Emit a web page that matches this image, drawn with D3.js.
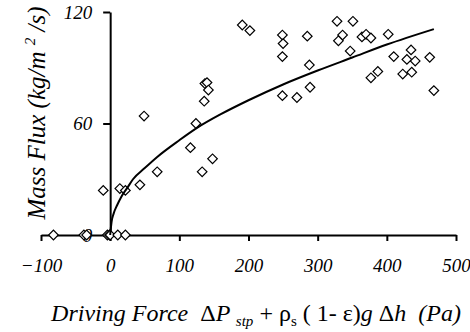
<!DOCTYPE html>
<html>
<head>
<meta charset="utf-8">
<script src="https://cdn.jsdelivr.net/npm/d3@7"></script>
<style>
  body { margin: 0; background: #fff; }
  svg { display: block; }
</style>
</head>
<body>
<div id="chart"></div>
<script>
// measured points (driving force Pa, mass flux kg/m2/s)
const forceX = [-82, -38, -34, -4, -1, 0, 11, 22,
  -10, 14, 22, 43, 68, 133, 49, 116, 124, 136, 137, 140, 142, 148, 191, 202,
  249, 250, 249, 249, 270, 289, 288, 285, 328, 351, 336, 330, 347, 364, 370, 377,
  402, 410, 435, 429, 441, 462, 387, 377, 423, 436, 468];
const fluxY = [0, 0, 0, 0, 0, 0, 0, 0,
  24, 25, 24, 27, 34, 34, 64, 47, 60, 72, 81.5, 82, 78, 41, 113, 110,
  107.6, 103, 96, 75, 74, 79.5, 91.5, 107, 115, 115, 107.6, 104.5, 99, 106.6, 108, 106,
  108, 96, 99.6, 94.5, 93.6, 95.6, 88, 84.6, 86.6, 87.6, 77.7];

// fitted curve
const fitX = [0, 2, 5, 10, 16, 25, 33, 50, 68, 100, 125, 160, 200, 250, 300, 350, 400, 468];
const fitY = [0, 7, 11.5, 16, 20.5, 25.5, 30, 36, 42, 51, 57.5, 65, 72.5, 81, 88.5, 95.5, 102.5, 110.8];

const xTicks = [-100, 0, 100, 200, 300, 400, 500];
const yTicks = [0, 60, 120];

const width = 470, height = 332;
const serif = 'Liberation Serif';

const svg = d3.select('#chart').append('svg')
  .attr('width', width)
  .attr('height', height)
  .attr('font-family', serif);

const x = d3.scaleLinear().domain([-100, 500]).range([41, 456]);
const y = d3.scaleLinear().domain([0, 120]).range([235, 12]);

const styleTicks = g => g.selectAll('.tick text')
  .attr('fill', '#000')
  .attr('font-family', serif)
  .attr('font-size', 19)
  .attr('font-style', 'italic');

// x axis
svg.append('g')
  .attr('font-family', serif)
  .attr('transform', `translate(0,${y(0)})`)
  .call(d3.axisBottom(x).tickValues(xTicks).tickSize(6).tickSizeOuter(0).tickPadding(18))
  .call(g => g.select('.domain').attr('stroke-width', 2))
  .call(g => g.selectAll('.tick line').attr('stroke-width', 2))
  .call(styleTicks);

// y axis
svg.append('g')
  .attr('font-family', serif)
  .attr('transform', `translate(${x(0)},0)`)
  .call(d3.axisLeft(y).tickValues(yTicks).tickSize(7).tickSizeOuter(0).tickPadding(11))
  .call(g => g.select('.domain').attr('stroke-width', 2))
  .call(g => g.selectAll('.tick line').attr('stroke-width', 2))
  .call(styleTicks);

// data points
const pts = forceX.map((d, i) => ({ x: d, y: fluxY[i] }));
const diamond = d3.symbol().type(d3.symbolSquare).size(46);
svg.append('g').selectAll('path')
  .data(pts)
  .join('path')
  .attr('d', diamond)
  .attr('transform', d => `translate(${x(d.x)},${y(d.y)}) rotate(45)`)
  .attr('fill', '#fff')
  .attr('stroke', '#000')
  .attr('stroke-width', 1.2);

// fit curve
const line = d3.line()
  .x((d, i) => x(fitX[i]))
  .y(d => y(d))
  .curve(d3.curveMonotoneX);
svg.append('path')
  .datum(fitY)
  .attr('d', line)
  .attr('fill', 'none')
  .attr('stroke', '#000')
  .attr('stroke-width', 2);

// y title
const yt = svg.append('text')
  .attr('transform', 'translate(45,113) rotate(-90)')
  .attr('text-anchor', 'middle')
  .attr('font-family', serif)
  .attr('font-size', 25)
  .attr('font-style', 'italic')
  .style('white-space', 'pre');
yt.append('tspan').text('Mass Flux (kg/m ');
yt.append('tspan').attr('dy', -10).attr('font-size', 15).text('2');
yt.append('tspan').attr('dy', 10).text(' /s)');

// x title
const xt = svg.append('text')
  .attr('x', 256)
  .attr('y', 321)
  .attr('text-anchor', 'middle')
  .attr('font-family', serif)
  .attr('font-size', 24)
  .style('white-space', 'pre');
xt.append('tspan').attr('font-style', 'italic').text('Driving Force  ');
xt.append('tspan').text('\u0394');
xt.append('tspan').attr('font-style', 'italic').text('P ');
xt.append('tspan').attr('dy', 5).attr('font-style', 'italic').attr('font-size', 15).text('stp');
xt.append('tspan').attr('dy', -5).text(' + \u03c1');
xt.append('tspan').attr('dy', 5).attr('font-size', 15).text('s');
xt.append('tspan').attr('dy', -5).text(' ( 1- \u03b5)');
xt.append('tspan').attr('font-style', 'italic').text('g ');
xt.append('tspan').text('\u0394');
xt.append('tspan').attr('font-style', 'italic').text('h  (Pa)');
</script>
</body>
</html>
